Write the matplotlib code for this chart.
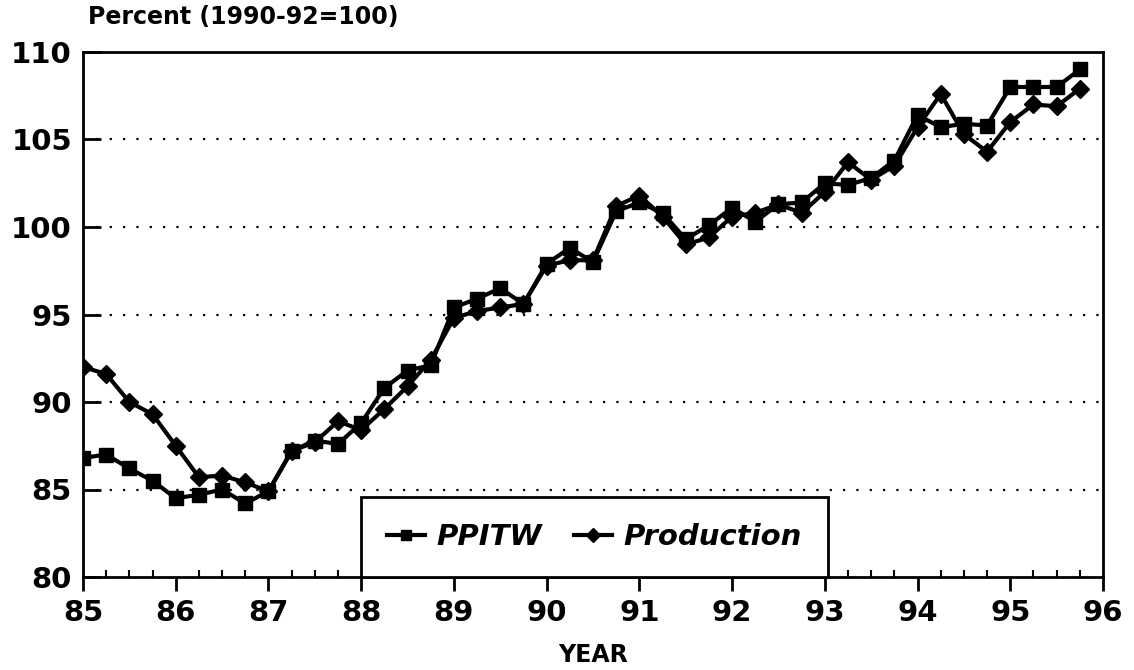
import matplotlib
matplotlib.use("Agg")
import matplotlib.pyplot as plt
import numpy as np
from matplotlib.ticker import MultipleLocator

# Quarterly observations, 1985Q1 .. 1995Q4
quarters = [85 + 0.25 * i for i in range(44)]

ppitw = [86.8, 87.0, 86.2, 85.5, 84.5, 84.7, 85.0, 84.2,
         84.9, 87.2, 87.8, 87.6, 88.8, 90.8, 91.8, 92.1,
         95.4, 95.9, 96.5, 95.6, 97.9, 98.8, 98.0, 100.9,
         101.4, 100.8, 99.3, 100.1, 101.1, 100.3, 101.3, 101.4,
         102.5, 102.4, 102.8, 103.8, 106.4, 105.7, 105.9, 105.8,
         108.0, 108.0, 108.0, 109.0]

production = [92.0, 91.6, 90.0, 89.3, 87.5, 85.7, 85.8, 85.4,
              84.9, 87.2, 87.7, 88.9, 88.4, 89.6, 90.9, 92.4,
              94.8, 95.2, 95.4, 95.6, 97.8, 98.1, 98.1, 101.2,
              101.8, 100.6, 99.0, 99.4, 100.6, 100.8, 101.3, 100.8,
              102.0, 103.7, 102.7, 103.5, 105.7, 107.6, 105.3, 104.3,
              106.0, 107.0, 106.9, 107.9]

year_ticks = list(range(85, 97))
y_ticks = [80, 85, 90, 95, 100, 105, 110]

fig = plt.figure(figsize=(11.34, 6.70), dpi=100)
ax = fig.add_axes([83 / 1134, 1 - 577 / 670, (1103 - 83) / 1134, (577 - 52) / 670])

ax.plot(quarters, ppitw, color="black", lw=3, marker="s", ms=10.5,
        label="PPITW", zorder=3)
ax.plot(quarters, production, color="black", lw=3, marker="D", ms=9.5,
        label="Production", zorder=3)

ax.set_xlim(85, 96)
ax.set_ylim(80, 110)
ax.set_xticks(year_ticks)
ax.set_xticklabels([str(y) for y in year_ticks])
ax.xaxis.set_minor_locator(MultipleLocator(0.25))
ax.set_yticks(y_ticks)
ax.set_yticklabels([str(v) for v in y_ticks])

for v in y_ticks[1:-1]:
    ax.axhline(v, color="black", lw=1.6, ls=(0, (1, 5)), zorder=1)

for sp in ax.spines.values():
    sp.set_linewidth(2)
    sp.set_color("black")

ax.tick_params(axis="x", which="major", direction="out", length=10, width=2,
               labelsize=21, pad=6)
ax.tick_params(axis="x", which="minor", direction="in", length=5, width=1.5)
ax.tick_params(axis="y", which="major", direction="in", length=13, width=2,
               labelsize=21, pad=8)
for lab in ax.get_xticklabels() + ax.get_yticklabels():
    lab.set_fontweight("black")
    lab.set_family("DejaVu Sans")

ax.set_xlabel("YEAR", fontsize=17, fontweight="bold", labelpad=11)

fig.text(88 / 1134, 1 - 17 / 670, "Percent (1990-92=100)", fontsize=17,
         fontweight="bold", va="center", ha="left")

leg = ax.legend(loc="lower center", bbox_to_anchor=(0.5015, 0.0), ncol=2,
                frameon=True, fancybox=False, edgecolor="black",
                framealpha=1.0,
                prop={"size": 21, "weight": "bold", "style": "italic"},
                handlelength=1.3, handletextpad=0.4, columnspacing=1.1,
                borderpad=0.9, markerscale=0.7, borderaxespad=0)
leg.get_frame().set_linewidth(2)
leg.set_zorder(5)

fig.savefig("out.png", dpi=100, facecolor="white")
